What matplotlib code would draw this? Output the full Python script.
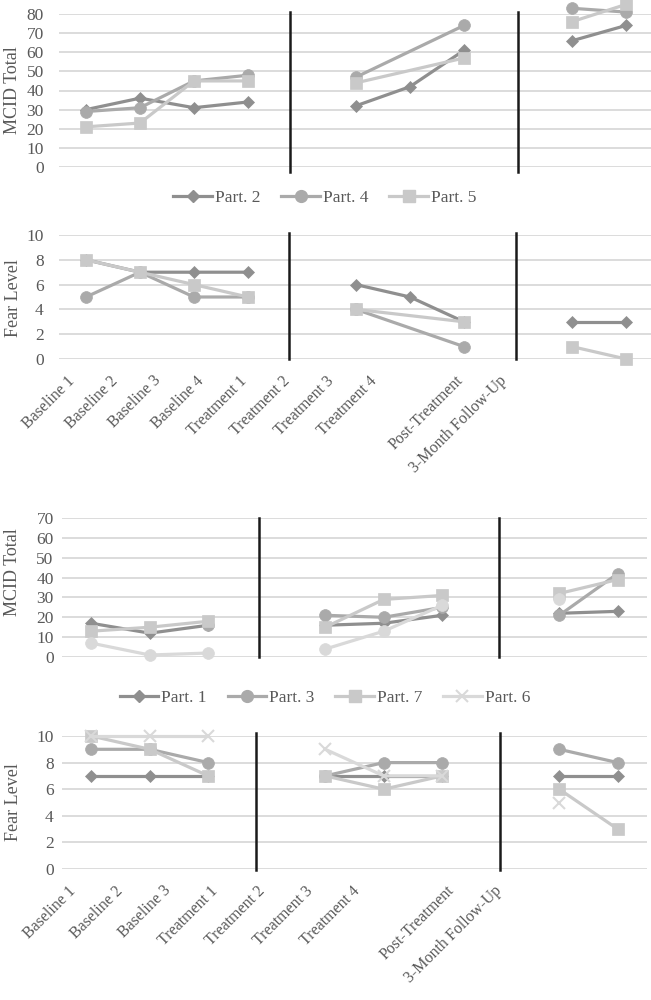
import numpy as np
import matplotlib
matplotlib.use("Agg")
import matplotlib.pyplot as plt
from matplotlib.lines import Line2D

plt.rcParams['font.family'] = ['Liberation Serif', 'DejaVu Serif']

nan = np.nan

# ---------------- Data: group A ----------------
cats_a = ['Baseline 1', 'Baseline 2', 'Baseline 3', 'Baseline 4',
          'Treatment 1', 'Treatment 2', 'Treatment 3', 'Treatment 4',
          '', 'Post-Treatment', '3-Month Follow-Up']
mcid_p2 = [30, 36, 31, 34, nan, 32, 42, 61, nan, 66, 74]
mcid_p4 = [29, 31, 45, 48, nan, 47, nan, 74, nan, 83, 81]
mcid_p5 = [21, 23, 45, 45, nan, 44, nan, 57, nan, 76, 85]
fear_p2 = [8, 7, 7, 7, nan, 6, 5, 3, nan, 3, 3]
fear_p4 = [5, 7, 5, 5, nan, 4, nan, 1, nan, nan, nan]
fear_p5 = [8, 7, 6, 5, nan, 4, nan, 3, nan, 1, 0]

# ---------------- Data: group B ----------------
cats_b = ['Baseline 1', 'Baseline 2', 'Baseline 3',
          'Treatment 1', 'Treatment 2', 'Treatment 3', 'Treatment 4',
          '', 'Post-Treatment', '3-Month Follow-Up']
mcid_p1 = [17, 12, 16, nan, 16, 17, 21, nan, 22, 23]
mcid_p3 = [nan, nan, 16, nan, 21, 20, 25, nan, 21, 42]
mcid_p7 = [13, 15, 18, nan, 15, 29, 31, nan, 32, 39]
mcid_p6 = [7, 1, 2, nan, 4, 13, 26, nan, 29, nan]
fear_p1 = [7, 7, 7, nan, 7, 7, 7, nan, 7, 7]
fear_p3 = [9, 9, 8, nan, 7, 8, 8, nan, 9, 8]
fear_p7 = [10, 9, 7, nan, 7, 6, 7, nan, 6, 3]
fear_p6 = [10, 10, 10, nan, 9, 7, 7, nan, 5, nan]

# phase breaks (index of the category where lines are interrupted)
breaks_a = [4, 8]
breaks_b = [3, 7]

# ---------------- Styles ----------------
C_DARK = '#8f8f8f'
C_MED = '#aaaaaa'
C_LIGHT = '#c9c9c9'
C_XLIGHT = '#d9d9d9'
TXT = '#595959'
GRID = '#d9d9d9'
LW = 2.3

fig = plt.figure(figsize=(6.51, 10), dpi=100)
W, H = 651.0, 1000.0


def make_ax(left, right, top, bottom):
    return fig.add_axes([left / W, 1 - bottom / H, (right - left) / W, (bottom - top) / H])


def series(ax, vals, color, marker, ms, breaks):
    y = np.array(vals, dtype=float)
    x = np.arange(len(y))
    edges = [0] + list(breaks) + [len(y)]
    for a, b in zip(edges[:-1], edges[1:]):
        xs, ys = x[a:b], y[a:b]
        m = ~np.isnan(ys)
        if not m.any():
            continue
        ax.plot(xs[m], ys[m], color=color, lw=LW, marker=marker, ms=ms,
                mec=color, mfc=color, mew=1.5 if marker == 'x' else 0.5,
                clip_on=False, zorder=3, solid_capstyle='round')


def style_ax(ax, n, ymax, ystep, tickpad, vlines, vspan):
    ax.set_xlim(-0.5, n - 0.5)
    ax.set_ylim(0, ymax)
    ax.set_yticks(np.arange(0, ymax + 0.1, ystep))
    ax.grid(axis='y', color=GRID, lw=1.3)
    ax.set_axisbelow(True)
    for s in ax.spines.values():
        s.set_visible(False)
    ax.tick_params(axis='y', length=0, pad=tickpad, labelsize=12.5, labelcolor=TXT)
    ax.tick_params(axis='x', length=0)
    for xv in vlines:
        ax.axvline(xv, ymin=vspan[0], ymax=vspan[1], color='#1a1a1a', lw=1.8,
                   clip_on=False, zorder=2)


# ---------------- Group A ----------------
ax1 = make_ax(59, 653, 14, 167)
series(ax1, mcid_p2, C_DARK, 'D', 6.5, breaks_a)
series(ax1, mcid_p4, C_MED, 'o', 8.5, breaks_a)
series(ax1, mcid_p5, C_LIGHT, 's', 8.5, breaks_a)
style_ax(ax1, len(cats_a), 80, 10, 11, [3.78, 8.0], (-0.03, 1.013))
ax1.set_xticks([])

ax2 = make_ax(59, 653, 235, 359)
series(ax2, fear_p2, C_DARK, 'D', 6.5, breaks_a)
series(ax2, fear_p4, C_MED, 'o', 8.5, breaks_a)
series(ax2, fear_p5, C_LIGHT, 's', 8.5, breaks_a)
style_ax(ax2, len(cats_a), 10, 2, 11, [3.76, 7.97], (0, 1.016))
pos_a = [-0.26 + 0.8 * i for i in range(len(cats_a))]
ax2.set_xticks(pos_a)
ax2.set_xticklabels(cats_a, rotation=45, ha='right', va='center',
                    rotation_mode='anchor', fontsize=11.5, color=TXT)
ax2.tick_params(axis='x', pad=14)

fig.text(13 / W, 1 - 90 / H, 'MCID Total', rotation=90, ha='center', va='center',
         fontsize=13, color=TXT)
fig.text(13 / W, 1 - 298 / H, 'Fear Level', rotation=90, ha='center', va='center',
         fontsize=13, color=TXT)

handles_a = [Line2D([], [], color=C_DARK, lw=LW, marker='D', ms=6.5),
             Line2D([], [], color=C_MED, lw=LW, marker='o', ms=8.5),
             Line2D([], [], color=C_LIGHT, lw=LW, marker='s', ms=8.5)]
fig.legend(handles_a, ['Part. 2', 'Part. 4', 'Part. 5'], loc='center',
           bbox_to_anchor=(325 / W, 1 - 198 / H), ncol=3, frameon=False,
           fontsize=12.5, labelcolor=TXT, handlelength=2.2, handletextpad=0.2,
           columnspacing=1.2)

# ---------------- Group B ----------------
ax3 = make_ax(62, 647, 518, 657)
series(ax3, mcid_p1, C_DARK, 'D', 6.5, breaks_b)
series(ax3, mcid_p3, C_MED, 'o', 8.5, breaks_b)
series(ax3, mcid_p7, C_LIGHT, 's', 8.5, breaks_b)
series(ax3, mcid_p6, C_XLIGHT, 'o', 8.5, breaks_b)
style_ax(ax3, len(cats_b), 70, 10, 6, [2.86, 6.97], (0, 1.0))
ax3.set_xticks([])

ax4 = make_ax(62, 647, 736, 869)
series(ax4, fear_p1, C_DARK, 'D', 6.5, breaks_b)
series(ax4, fear_p3, C_MED, 'o', 8.5, breaks_b)
series(ax4, fear_p7, C_LIGHT, 's', 8.5, breaks_b)
series(ax4, fear_p6, C_XLIGHT, 'x', 8, breaks_b)
style_ax(ax4, len(cats_b), 10, 2, 6, [2.82, 6.99], (-0.008, 1.02))
pos_b = [-0.31 + 0.81 * i for i in range(len(cats_b))]
ax4.set_xticks(pos_b)
ax4.set_xticklabels(cats_b, rotation=45, ha='right', va='center',
                    rotation_mode='anchor', fontsize=11.5, color=TXT)
ax4.tick_params(axis='x', pad=14)

fig.text(13 / W, 1 - 572 / H, 'MCID Total', rotation=90, ha='center', va='center',
         fontsize=13, color=TXT)
fig.text(13 / W, 1 - 802 / H, 'Fear Level', rotation=90, ha='center', va='center',
         fontsize=13, color=TXT)

handles_b = [Line2D([], [], color=C_DARK, lw=LW, marker='D', ms=6.5),
             Line2D([], [], color=C_MED, lw=LW, marker='o', ms=8.5),
             Line2D([], [], color=C_LIGHT, lw=LW, marker='s', ms=8.5),
             Line2D([], [], color=C_XLIGHT, lw=LW, marker='x', ms=8, mew=1.5)]
fig.legend(handles_b, ['Part. 1', 'Part. 3', 'Part. 7', 'Part. 6'], loc='center',
           bbox_to_anchor=(325 / W, 1 - 698 / H), ncol=4, frameon=False,
           fontsize=12.5, labelcolor=TXT, handlelength=2.2, handletextpad=0.2,
           columnspacing=1.2)

fig.savefig('out.png', dpi=100)
